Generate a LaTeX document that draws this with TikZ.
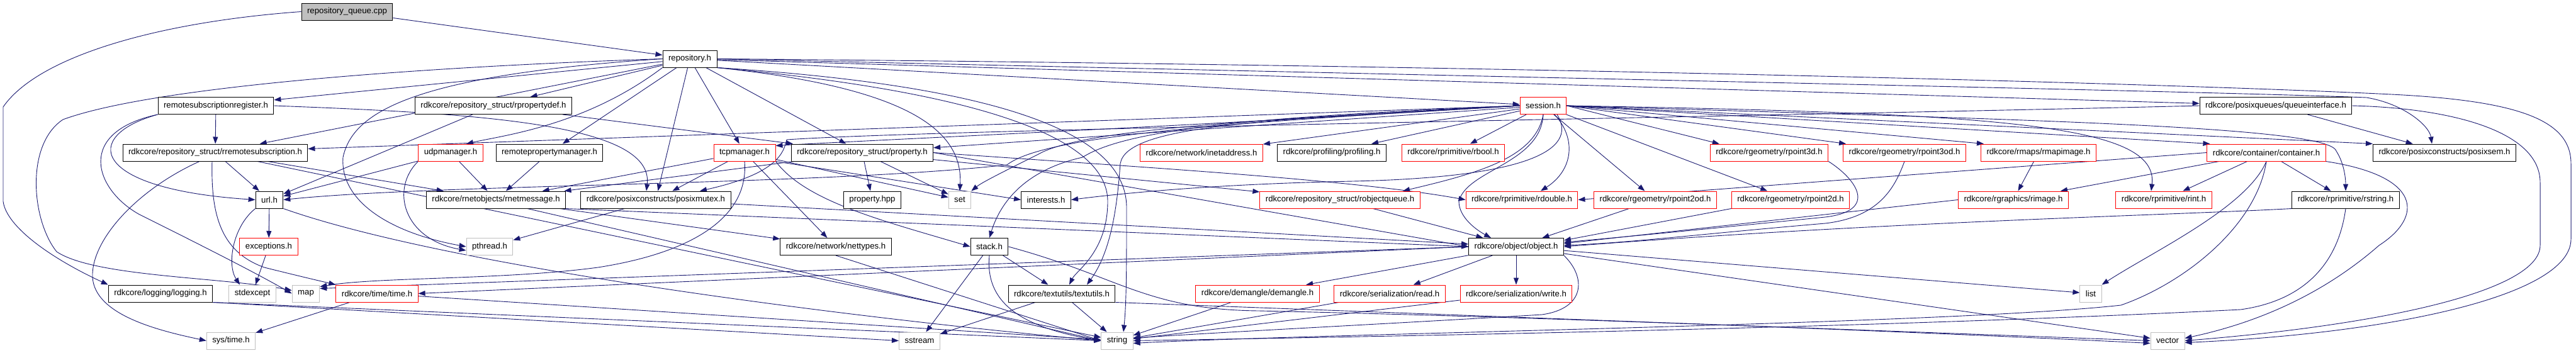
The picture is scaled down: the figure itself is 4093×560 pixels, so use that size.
\documentclass[tikz,border=0pt]{standalone}
\usepackage{fontspec}
\newfontfamily\dotfont{Liberation Sans}
\usetikzlibrary{arrows.meta,backgrounds}
\definecolor{edgeblue}{RGB}{25,25,112}
\definecolor{sysgray}{RGB}{191,191,191}

\begin{document}
\begin{tikzpicture}[x=1pt, y=-1pt,
  file/.style={draw=black, fill=white, line width=1pt, minimum height=27pt, inner xsep=9pt, inner ysep=0pt, font=\dotfont\fontsize{13.2}{16}\selectfont},
  trunc/.style={file, draw=red},
  sysinc/.style={file, draw=sysgray},
  root/.style={file, fill=sysgray},
  dep/.style={draw=edgeblue, line width=0.9pt, -{Triangle[length=11pt,width=8pt]}}]
  \useasboundingbox (0,0) rectangle (4093,560);

  % row 0 and 1
  \node[root] (cpp) at (551.5,18.5) {repository\_queue.cpp};
  \node[file] (R) at (1096,93.5) {repository.h};
  % row 2
  \node[file] (rsr) at (343,168) {remotesubscriptionregister.h};
  \node[file] (rpd) at (784,168) {rdkcore/repository\_struct/rpropertydef.h};
  \node[trunc] (ses) at (2452,168) {session.h};
  \node[file] (qi) at (3616,168) {rdkcore/posixqueues/queueinterface.h};
  % row 3
  \node[file] (rrs) at (342,242.5) {rdkcore/repository\_struct/rremotesubscription.h};
  \node[trunc] (udp) at (716,242.5) {udpmanager.h};
  \node[file] (rpm) at (873,242.5) {remotepropertymanager.h};
  \node[trunc] (tcp) at (1183,242.5) {tcpmanager.h};
  \node[file] (prop) at (1370,242.5) {rdkcore/repository\_struct/property.h};
  \node[trunc] (inet) at (1909,242.5) {rdkcore/network/inetaddress.h};
  \node[file] (prof) at (2116,242.5) {rdkcore/profiling/profiling.h};
  \node[trunc] (rbool) at (2309,242.5) {rdkcore/rprimitive/rbool.h};
  \node[trunc] (rp3d) at (2811,242.5) {rdkcore/rgeometry/rpoint3d.h};
  \node[trunc] (rp3od) at (3026,242.5) {rdkcore/rgeometry/rpoint3od.h};
  \node[trunc] (rmap) at (3239,242.5) {rdkcore/rmaps/rmapimage.h};
  \node[trunc] (cont) at (3601,242.5) {rdkcore/container/container.h};
  \node[file] (sem) at (3884,242.5) {rdkcore/posixconstructs/posixsem.h};
  % row 4
  \node[file] (url) at (428,317.5) {url.h};
  \node[file] (rnm) at (788,317.5) {rdkcore/rnetobjects/rnetmessage.h};
  \node[file] (mutex) at (1042,317.5) {rdkcore/posixconstructs/posixmutex.h};
  \node[file] (hpp) at (1386,317.5) {property.hpp};
  \node[sysinc] (set) at (1525,317.5) {set};
  \node[file] (intr) at (1662,317.5) {interests.h};
  \node[trunc] (roq) at (2129,317.5) {rdkcore/repository\_struct/robjectqueue.h};
  \node[trunc] (rdbl) at (2418,317.5) {rdkcore/rprimitive/rdouble.h};
  \node[trunc] (rp2od) at (2630,317.5) {rdkcore/rgeometry/rpoint2od.h};
  \node[trunc] (rp2d) at (2845,317.5) {rdkcore/rgeometry/rpoint2d.h};
  \node[trunc] (rimg) at (3199,317.5) {rdkcore/rgraphics/rimage.h};
  \node[trunc] (rint) at (3438,317.5) {rdkcore/rprimitive/rint.h};
  \node[file] (rstr) at (3727,317.5) {rdkcore/rprimitive/rstring.h};
  % row 5
  \node[trunc] (exc) at (427,392) {exceptions.h};
  \node[sysinc] (pthr) at (778,392) {pthread.h};
  \node[file] (nett) at (1328,392) {rdkcore/network/nettypes.h};
  \node[file] (stack) at (1572,392) {stack.h};
  \node[file] (obj) at (2409,392) {rdkcore/object/object.h};
  % row 6
  \node[file] (log) at (255,466.5) {rdkcore/logging/logging.h};
  \node[sysinc] (stdx) at (401,466.5) {stdexcept};
  \node[sysinc] (map) at (486,466.5) {map};
  \node[trunc] (time) at (599,466.5) {rdkcore/time/time.h};
  \node[file] (txt) at (1687,466.5) {rdkcore/textutils/textutils.h};
  \node[trunc] (dem) at (1998,466.5) {rdkcore/demangle/demangle.h};
  \node[trunc] (rd) at (2208,466.5) {rdkcore/serialization/read.h};
  \node[trunc] (wr) at (2409,466.5) {rdkcore/serialization/write.h};
  \node[sysinc] (list) at (3322,466.5) {list};
  % row 7
  \node[sysinc] (systm) at (367,541.5) {sys/time.h};
  \node[sysinc] (sstr) at (1461,541.5) {sstream};
  \node[sysinc] (str) at (1775,541.5) {string};
  \node[sysinc] (vec) at (3444,541.5) {vector};

  \begin{pgfonlayer}{background}
  % straight includes
  \foreach \a/\b in {cpp/R, R/rsr, R/rrs, R/rpd, R/rpm, R/tcp, R/prop, R/ses, R/qi, R/mutex,
      rsr/rrs, rpd/url, rpd/prop, rrs/url, rrs/rnm, rrs/str, udp/url, udp/rnm, rpm/rnm,
      tcp/rnm, tcp/mutex, tcp/nett, tcp/set, prop/hpp, prop/set, prop/roq, prop/rnm,
      ses/prop, ses/inet, ses/prof, ses/rbool, ses/rp2od, ses/rp2d, qi/sem,
      cont/rint, cont/rstr, cont/rimg, rmap/rimg, roq/obj, rp2od/obj, url/exc, exc/stdx,
      mutex/pthr, mutex/obj, rnm/nett, stack/sstr, stack/txt, txt/sstr, txt/str,
      obj/dem, obj/rd, obj/wr, obj/list, obj/vec, dem/str, rd/str, wr/str, time/systm, time/str}
    \draw[dep] (\a) -- (\b);

  \draw[dep] (ses.west) -- ([yshift=6pt]rrs.east);
  \draw[dep] (ses.east) -- ([xshift=15pt]rp3d.north west);
  \draw[dep] (ses.east) -- ([xshift=5pt]rp3od.north west);
  \draw[dep] (ses.east) -- ([xshift=5pt]rmap.north west);
  \draw[dep] (ses.east) -- ([xshift=5pt]cont.north west);
  \draw[dep] (ses.east) -- (sem.north west);
  \draw[dep] (tcp.south east) -- (intr.west);
  \draw[dep] (prop.east) -- (obj.west);
  \draw[dep] (cont.west) -- (rdbl.east);
  \draw[dep] (rimg.west) -- ([yshift=5pt]obj.east);
  \draw[dep] (rp2d.south west) -- ([yshift=10pt]obj.east);
  \draw[dep] (obj.west) -- ([yshift=8pt]map.east);
  \draw[dep] (obj.west) -- (time.east);
  \draw[dep] (log.south east) -- (str.west);
  \draw[dep] (log.south east) -- (sstr.west);
  \draw[dep] (rnm.south east) -- (obj.west);
  \draw[dep] ([xshift=50pt]rnm.south) -- (str.west);
  \draw[dep] (nett.south) -- (str.west);
  \draw[dep] (txt.south east) -- (vec.west);

  % curved includes
  \draw[dep] (cpp.west) .. controls (250,35) and (60,90) .. (5,170) -- (5,320) .. controls (10,360) and (80,410) .. (log.north west);
  \draw[dep] (R.south west) .. controls (930,200) and (800,215) .. ([xshift=25pt]udp.north);
  \draw[dep] (R.east) .. controls (2500,125) and (3500,145) .. (3760,155) .. controls (3820,165) and (3860,200) .. ([xshift=-20pt]sem.north);
  \draw[dep] (R.east) .. controls (2500,105) and (3500,135) .. (3800,150) .. controls (4000,160) and (4085,190) .. (4085,260) -- (4085,380) .. controls (4085,470) and (3800,530) .. ([yshift=-3pt]vec.east);
  \draw[dep] (R.west) .. controls (700,105) and (250,135) .. (100,190) .. controls (40,230) and (50,350) .. (90,400) .. controls (150,440) and (350,440) .. ([yshift=5pt]map.west);
  \draw[dep] (R.west) .. controls (650,120) and (560,180) .. (545,250) .. controls (540,320) and (620,370) .. (pthr.west);
  \draw[dep] (R.south east) .. controls (1450,140) and (1530,210) .. (set.north);
  \draw[dep] (R.south east) .. controls (1600,150) and (1760,230) .. (1760,320) .. controls (1760,400) and (1710,430) .. ([xshift=12pt]txt.north);
  \draw[dep] (R.south east) .. controls (1650,140) and (1790,230) .. (1790,330) .. controls (1790,420) and (1790,480) .. ([xshift=10pt]str.north);
  \draw[dep] (rsr.south west) .. controls (130,215) and (140,300) .. (url.west);
  \draw[dep] (rsr.south west) .. controls (120,210) and (150,300) .. (220,340) .. controls (300,380) and (400,430) .. (map.west);
  \draw[dep] (rsr.east) .. controls (750,180) and (1040,195) .. ([xshift=-15pt]mutex.north);
  \draw[dep] ([xshift=-25pt]rrs.south) .. controls (220,300) and (145,380) .. (147,440) .. controls (150,500) and (250,525) .. (systm.west);
  \draw[dep] ([xshift=-5pt]rrs.south) .. controls (335,340) and (350,400) .. (420,425) .. controls (480,440) and (515,448) .. (time.north west);
  \draw[dep] (udp.south west) .. controls (620,300) and (640,380) .. ([yshift=-6pt]pthr.west);
  \draw[dep] (tcp.south) .. controls (1190,340) and (1110,400) .. (950,425) .. controls (800,445) and (600,440) .. ([yshift=11pt]map.east);
  \draw[dep] (tcp.south east) .. controls (1280,320) and (1400,350) .. (stack.west);
  \draw[dep] (prop.east) .. controls (1800,265) and (2150,285) .. (rdbl.west);
  \draw[dep] (ses.west) .. controls (1900,200) and (1400,222) .. ([yshift=11pt]tcp.east);
  \draw[dep] (ses.west) .. controls (1950,195) and (1660,215) .. (1600,262) .. controls (1300,295) and (700,292) .. (url.east);
  \draw[dep] ([xshift=18pt]ses.south) .. controls (2505,220) and (2500,270) .. ([xshift=30pt]rdbl.north);
  \draw[dep] (ses.east) .. controls (3200,180) and (3430,200) .. ([xshift=-20pt]rint.north);
  \draw[dep] (ses.east) .. controls (3200,190) and (3700,200) .. (3712,240) .. controls (3725,260) and (3727,285) .. (rstr.north);
  \draw[dep] (ses.south) .. controls (2448,260) and (2330,270) .. (2318,320) .. controls (2318,345) and (2345,365) .. ([xshift=-40pt]obj.north);
  \draw[dep] (ses.south) .. controls (2440,250) and (2350,275) .. ([xshift=100pt]roq.north);
  \draw[dep] (ses.west) .. controls (2000,185) and (1790,205) .. (1720,250) .. controls (1630,270) and (1590,320) .. (stack.north);
  \draw[dep] (ses.west) .. controls (2000,190) and (1720,205) .. (1650,245) .. controls (1590,275) and (1560,290) .. (set.north east);
  \draw[dep] (ses.west) .. controls (2000,190) and (1790,200) .. (1780,260) .. controls (1775,330) and (1765,400) .. ([xshift=40pt]txt.north);
  \draw[dep] ([xshift=22pt]ses.south) .. controls (2510,240) and (2420,282) .. (2150,288) .. controls (1950,292) and (1800,305) .. (intr.east);
  \draw[dep] (qi.west) .. controls (2800,185) and (1500,205) .. (1250,222) .. controls (1245,240) and (1240,275) .. ([xshift=70pt]mutex.north);
  \draw[dep] (qi.east) .. controls (3900,172) and (4036,210) .. (4036,290) -- (4036,390) .. controls (4036,460) and (3800,515) .. (vec.east);
  \draw[dep] (cont.south east) .. controls (3850,280) and (3850,345) .. (3780,390) .. controls (3700,460) and (3600,510) .. ([yshift=4pt]vec.east);
  \draw[dep] (cont.south) .. controls (3570,330) and (3420,400) .. (list.north east);
  \draw[dep] (cont.south) .. controls (3585,360) and (3470,450) .. (3370,485) .. controls (3100,515) and (2100,530) .. ([yshift=-4pt]str.east);
  \draw[dep] (rstr.south west) .. controls (3450,342) and (3000,352) .. (obj.east);
  \draw[dep] (rstr.south) .. controls (3715,420) and (3660,478) .. (3560,492) .. controls (3000,520) and (2300,533) .. (str.east);
  \draw[dep] (rp3d.south east) .. controls (2950,285) and (2985,335) .. (2900,345) .. controls (2750,360) and (2600,375) .. ([yshift=7pt]obj.east);
  \draw[dep] (rp3od.south) .. controls (3010,300) and (2985,345) .. (2900,355) .. controls (2700,372) and (2600,385) .. ([yshift=2pt]obj.east);
  \draw[dep] (obj.south east) .. controls (2520,440) and (2520,490) .. (2450,500) .. controls (2200,515) and (1900,530) .. ([yshift=4pt]str.east);
  \draw[dep] (url.south west) .. controls (370,360) and (360,420) .. ([xshift=-20pt]stdx.north);
  \draw[dep] (url.south east) .. controls (700,420) and (1300,500) .. (str.west);
  \draw[dep] (stack.south) .. controls (1565,480) and (1620,520) .. (str.west);
  \draw[dep] (stack.east) .. controls (1780,440) and (1820,492) .. (2000,494) .. controls (2500,505) and (3100,530) .. ([yshift=-4pt]vec.west);
  \end{pgfonlayer}
\end{tikzpicture}
\end{document}
